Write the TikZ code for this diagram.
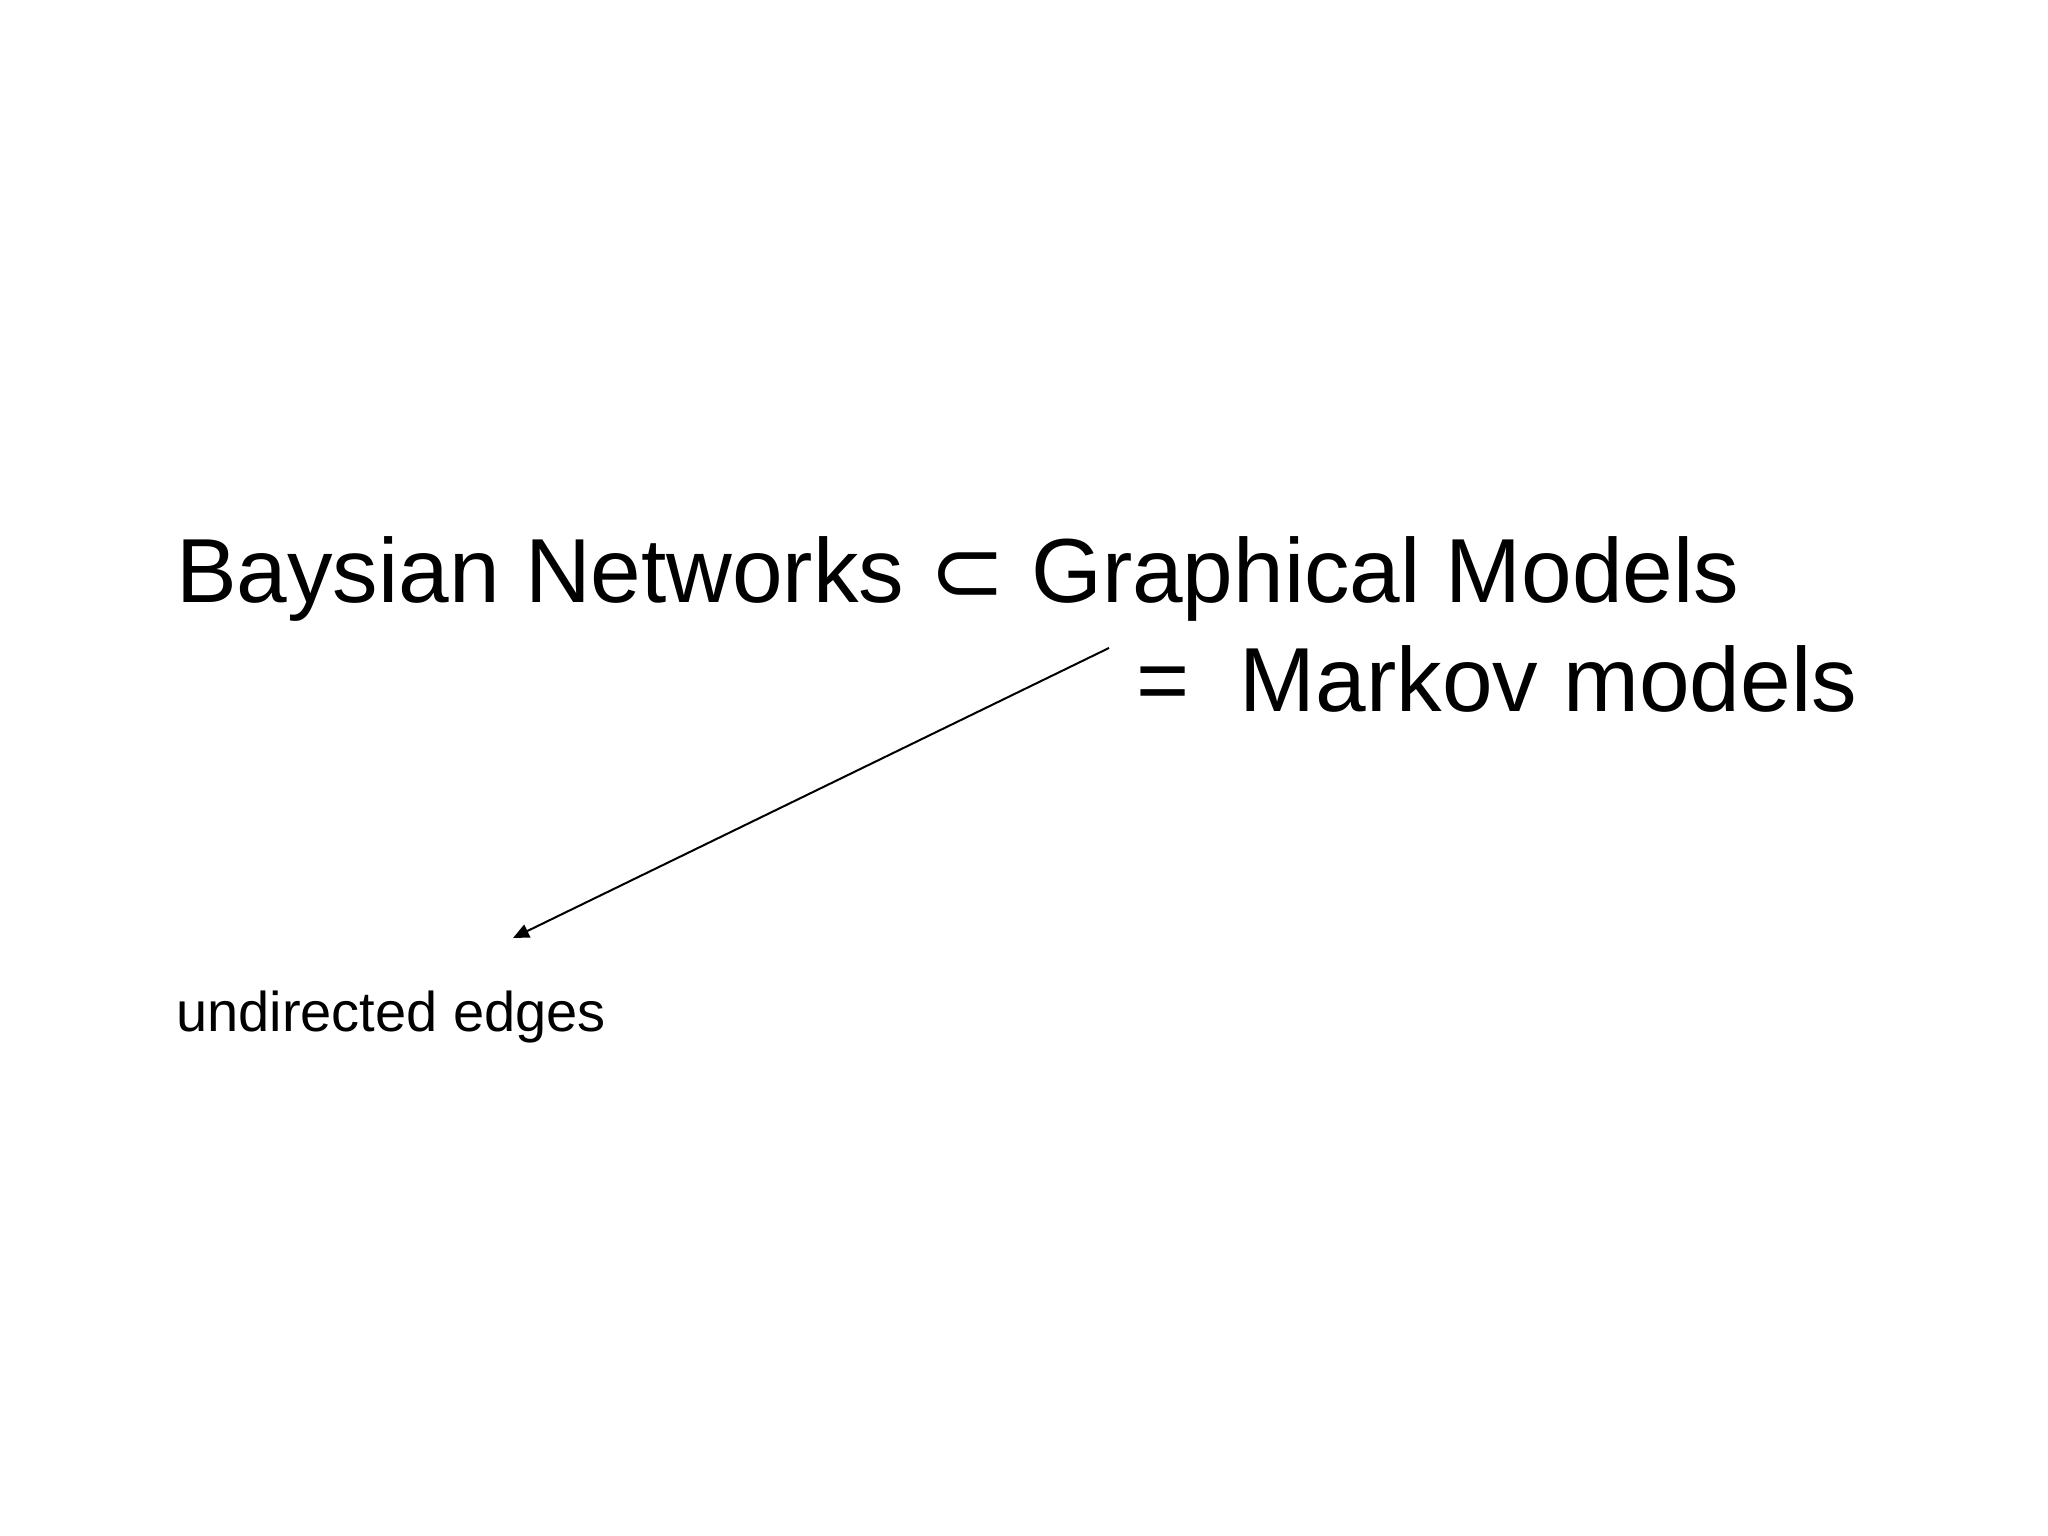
\documentclass[tikz,border=0pt]{standalone}
\usepackage{fontspec}
\setmainfont{Liberation Sans}
\newfontfamily\symfont{DejaVu Sans}
\usetikzlibrary{arrows.meta}
\begin{document}
\begin{tikzpicture}[x=1pt,y=1pt,
  big/.style={inner sep=0pt,anchor=base west,font=\fontsize{91}{100}\selectfont},
  small/.style={inner sep=0pt,anchor=base west,font=\fontsize{56}{60}\selectfont},
  conn/.style={line width=2pt,-{Triangle[length=16pt,width=14pt]}}]
\useasboundingbox (0,0) rectangle (2048,1536);
\node[big] (l1) at (176,933) {Baysian Networks {\symfont ⊂} Graphical Models};
\node[big] (l2) at (1136,824) {=\ \ Markov models};
\node[small] (u) at (176,504) {undirected edges};
\coordinate (s) at (1109,888);
\coordinate (e) at (513,598);
\draw[conn] (s) -- (e);
\end{tikzpicture}
\end{document}
